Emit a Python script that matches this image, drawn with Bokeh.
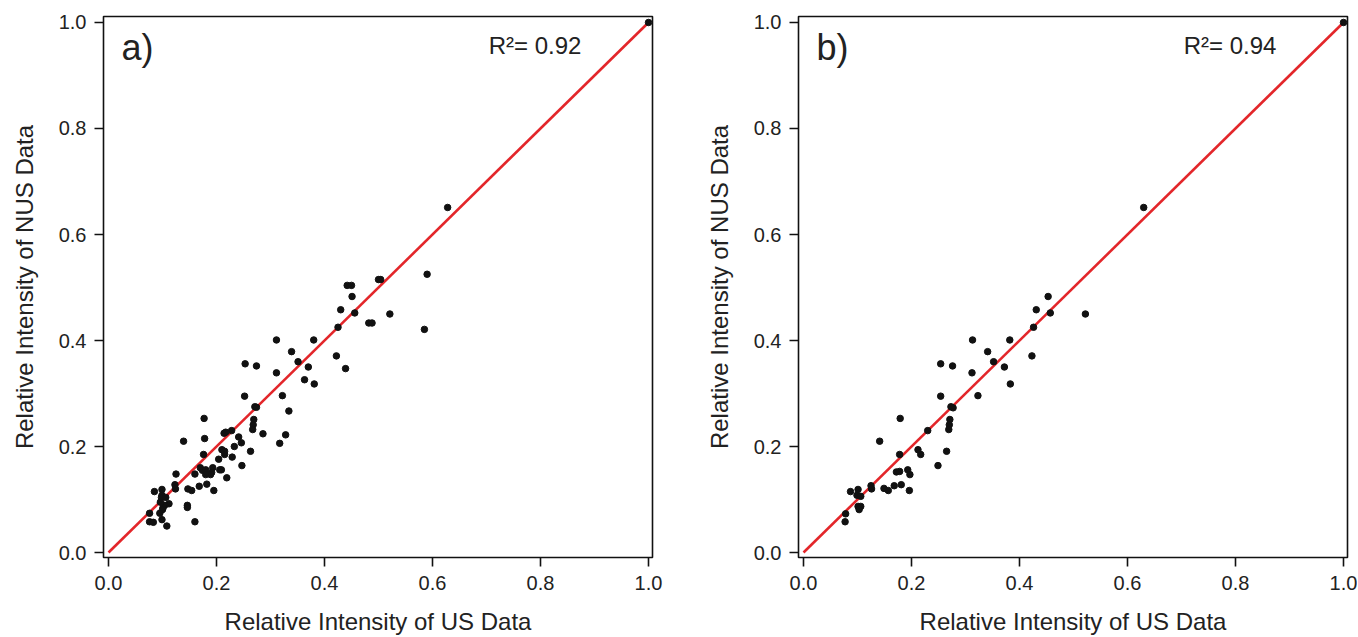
from bokeh.plotting import figure
from bokeh.layouts import row
from bokeh.models import Label, Range1d, FixedTicker
from bokeh.embed import file_html
from bokeh.resources import INLINE

# ---- data (relative intensities) ----
us_a = [1.0, 0.628, 0.59, 0.5, 0.504, 0.442, 0.45, 0.451, 0.43, 0.456, 0.521, 0.425, 0.482, 0.488,
        0.585, 0.311, 0.38, 0.339, 0.351, 0.422, 0.37, 0.439, 0.253, 0.274, 0.311, 0.363, 0.381,
        0.252, 0.322, 0.271, 0.274, 0.334, 0.177, 0.269, 0.268, 0.267, 0.214, 0.217, 0.228, 0.286,
        0.328, 0.317, 0.241, 0.246, 0.178, 0.139, 0.233, 0.21, 0.215, 0.215, 0.263, 0.176, 0.204,
        0.229, 0.247, 0.17, 0.174, 0.18, 0.193, 0.191, 0.189, 0.206, 0.209, 0.16, 0.18, 0.219,
        0.125, 0.123, 0.124, 0.168, 0.182, 0.195, 0.147, 0.154, 0.146, 0.146, 0.085, 0.099, 0.099,
        0.098, 0.106, 0.112, 0.104, 0.101, 0.1, 0.096, 0.076, 0.095, 0.099, 0.076, 0.083, 0.108, 0.16]
nus_a = [1.0, 0.651, 0.525, 0.515, 0.515, 0.504, 0.504, 0.483, 0.458, 0.452, 0.45, 0.425, 0.433, 0.433,
         0.421, 0.401, 0.401, 0.379, 0.36, 0.371, 0.35, 0.347, 0.356, 0.352, 0.339, 0.326, 0.318,
         0.295, 0.296, 0.275, 0.274, 0.267, 0.253, 0.251, 0.241, 0.232, 0.225, 0.227, 0.23, 0.224,
         0.222, 0.206, 0.218, 0.207, 0.215, 0.21, 0.2, 0.194, 0.191, 0.185, 0.191, 0.185, 0.176,
         0.18, 0.164, 0.16, 0.155, 0.156, 0.16, 0.151, 0.147, 0.156, 0.156, 0.148, 0.147, 0.141,
         0.148, 0.128, 0.12, 0.125, 0.129, 0.117, 0.12, 0.117, 0.089, 0.085, 0.115, 0.119, 0.108,
         0.104, 0.104, 0.092, 0.089, 0.085, 0.081, 0.095, 0.074, 0.074, 0.062, 0.058, 0.057, 0.05, 0.058]

us_b = [1.0, 0.63, 0.453, 0.431, 0.457, 0.522, 0.426, 0.313, 0.382, 0.341, 0.352, 0.423, 0.372,
        0.254, 0.276, 0.312, 0.383, 0.254, 0.323, 0.273, 0.277, 0.179, 0.271, 0.27, 0.269, 0.23,
        0.141, 0.212, 0.217, 0.178, 0.265, 0.249, 0.172, 0.178, 0.193, 0.197, 0.181, 0.196, 0.149,
        0.157, 0.168, 0.125, 0.126, 0.087, 0.101, 0.099, 0.106, 0.101, 0.106, 0.103, 0.078, 0.077]
nus_b = [1.0, 0.651, 0.483, 0.458, 0.452, 0.45, 0.425, 0.401, 0.401, 0.379, 0.36, 0.371, 0.35,
         0.356, 0.352, 0.339, 0.318, 0.295, 0.296, 0.275, 0.273, 0.253, 0.251, 0.241, 0.232, 0.23,
         0.21, 0.194, 0.185, 0.185, 0.191, 0.164, 0.152, 0.153, 0.156, 0.147, 0.128, 0.117, 0.121,
         0.117, 0.126, 0.126, 0.12, 0.115, 0.119, 0.108, 0.106, 0.087, 0.087, 0.081, 0.073, 0.058]

fit_x = [0.0, 1.0]
fit_y = [0.0, 1.0]

tick_values = [0.0, 0.2, 0.4, 0.6, 0.8, 1.0]
tick_labels = ["0.0", "0.2", "0.4", "0.6", "0.8", "1.0"]
panel_tags = ["a)", "b)"]
r2_texts = ["R\u00b2= 0.92", "R\u00b2= 0.94"]
x_title = "Relative Intensity of US Data"
y_title = "Relative Intensity of NUS Data"

FONT = "Liberation Sans"


def make_panel(us, nus, tag, r2, border_left, border_right):
    p = figure(frame_width=549, frame_height=541,
               x_range=Range1d(-0.0093, 1.0074), y_range=Range1d(-0.0094, 1.0113),
               output_backend="svg", toolbar_location=None,
               min_border_left=border_left, min_border_right=border_right,
               min_border_top=16, min_border_bottom=78,
               background_fill_color="white", border_fill_color="white")
    p.xgrid.visible = False
    p.ygrid.visible = False
    p.outline_line_color = "#111111"
    p.outline_line_width = 1.6
    p.outline_line_alpha = 1.0

    overrides = {v: t for v, t in zip(tick_values, tick_labels)}
    for ax in (p.xaxis[0], p.yaxis[0]):
        ax.ticker = FixedTicker(ticks=tick_values)
        ax.major_label_overrides = overrides
        ax.axis_line_color = None
        ax.major_tick_line_color = "#111111"
        ax.major_tick_line_width = 1.6
        ax.major_tick_in = 0
        ax.major_tick_out = 9
        ax.minor_tick_line_color = None
        ax.major_label_text_font = FONT
        ax.major_label_text_font_size = "20px"
        ax.major_label_text_color = "#222222"
        ax.axis_label_text_font = FONT
        ax.axis_label_text_font_size = "24px"
        ax.axis_label_text_font_style = "normal"
        ax.axis_label_text_color = "#222222"
    p.xaxis.axis_label = x_title
    p.yaxis.axis_label = y_title
    p.xaxis.major_label_standoff = 9
    p.yaxis.major_label_standoff = 8
    p.xaxis.axis_label_standoff = 15
    p.yaxis.axis_label_standoff = 18

    p.line(fit_x, fit_y, line_color="#e3262a", line_width=2.6)
    p.scatter(us, nus, size=6.5, fill_color="#111111", line_color="#111111")

    p.add_layout(Label(x=0.024, y=0.953, text=tag, text_font=FONT, text_font_size="36px",
                       text_baseline="middle", text_color="#222222"))
    p.add_layout(Label(x=0.704, y=0.957, text=r2, text_font=FONT, text_font_size="24px",
                       text_baseline="middle", text_color="#222222"))
    return p


pa = make_panel(us_a, nus_a, panel_tags[0], r2_texts[0], 103, 49)
pb = make_panel(us_b, nus_b, panel_tags[1], r2_texts[1], 97, 10)

layout = row(pa, pb)
open("out.html", "w").write(file_html(layout, INLINE))
